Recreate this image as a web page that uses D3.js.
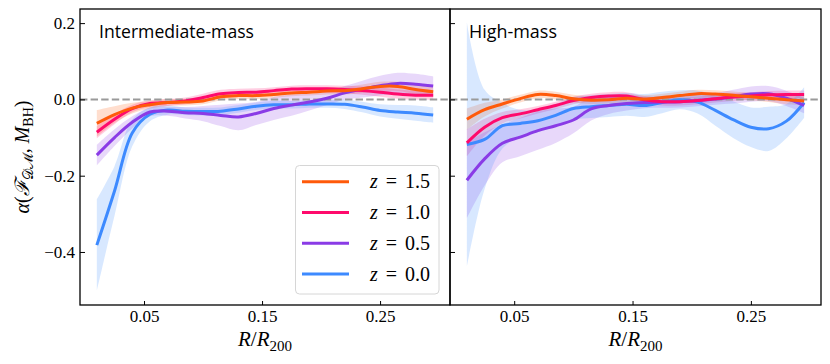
<!DOCTYPE html>
<html>
<head>
<meta charset="utf-8">
<script src="https://cdn.jsdelivr.net/npm/d3@7"></script>
<style>
  html, body { margin: 0; padding: 0; background: #fff; }
  svg { display: block; }
</style>
</head>
<body>
<svg id="chart" width="830" height="364"></svg>
<script>
// ---------------- data ----------------
const R = [0.01, 0.025, 0.04, 0.055, 0.07, 0.085, 0.10, 0.115, 0.13, 0.145,
           0.16, 0.175, 0.19, 0.205, 0.22, 0.235, 0.25, 0.265, 0.28, 0.295];

const redshifts = ["1.5", "1.0", "0.5", "0.0"];
const colors = ["#ff5a0a", "#ff0a6c", "#8a3be6", "#3d8aff"];
const panelTitles = ["Intermediate-mass", "High-mass"];
const xTicks = [0.05, 0.15, 0.25];
const yTicks = [0.2, 0.0, -0.2, -0.4];

// Intermediate-mass
const int_z15 = [-0.063,-0.040,-0.023,-0.014,-0.008,-0.007,-0.004,0.007,0.010,0.010,0.013,0.017,0.019,0.022,0.023,0.028,0.034,0.034,0.026,0.020];
const int_z15_err = [0.035,0.022,0.014,0.010,0.009,0.009,0.009,0.009,0.009,0.009,0.009,0.009,0.009,0.009,0.010,0.011,0.012,0.012,0.012,0.012];
const int_z10 = [-0.086,-0.052,-0.024,-0.011,-0.008,-0.004,0.005,0.015,0.018,0.019,0.023,0.027,0.028,0.028,0.026,0.023,0.019,0.014,0.011,0.011];
const int_z10_err = [0.016,0.013,0.010,0.009,0.009,0.009,0.010,0.010,0.010,0.010,0.009,0.009,0.009,0.009,0.010,0.011,0.012,0.012,0.012,0.012];
const int_z05 = [-0.146,-0.100,-0.060,-0.033,-0.031,-0.035,-0.037,-0.042,-0.046,-0.037,-0.024,-0.015,-0.007,0.003,0.017,0.027,0.036,0.042,0.040,0.035];
const int_z05_err = [0.027,0.022,0.016,0.012,0.012,0.015,0.020,0.028,0.035,0.030,0.030,0.028,0.022,0.018,0.018,0.022,0.026,0.028,0.027,0.025];
const int_z00 = [-0.382,-0.240,-0.088,-0.039,-0.028,-0.031,-0.032,-0.031,-0.025,-0.018,-0.014,-0.014,-0.012,-0.012,-0.013,-0.020,-0.029,-0.033,-0.036,-0.041];
const int_z00_err = [0.120,0.065,0.035,0.018,0.012,0.010,0.010,0.010,0.010,0.010,0.010,0.010,0.010,0.010,0.012,0.014,0.016,0.018,0.020,0.020];

// High-mass
const hi_z15 = [-0.052,-0.027,-0.012,0.002,0.013,0.010,0.002,-0.002,-0.001,0.003,0.001,0.005,0.010,0.015,0.014,0.011,0.007,0.003,-0.001,-0.004];
const hi_z15_err = [0.028,0.018,0.012,0.010,0.010,0.010,0.010,0.010,0.010,0.010,0.010,0.010,0.010,0.010,0.010,0.010,0.010,0.010,0.012,0.012];
const hi_z10 = [-0.114,-0.073,-0.048,-0.038,-0.027,-0.016,-0.003,0.005,0.009,0.009,-0.001,-0.006,-0.006,-0.003,0.002,0.006,0.009,0.012,0.013,0.013];
const hi_z10_err = [0.035,0.022,0.015,0.012,0.010,0.010,0.010,0.010,0.010,0.010,0.010,0.010,0.010,0.010,0.010,0.010,0.010,0.010,0.010,0.010];
const hi_z05 = [-0.212,-0.156,-0.115,-0.099,-0.082,-0.069,-0.054,-0.025,-0.016,-0.011,-0.008,-0.007,-0.006,-0.003,0.001,0.007,0.014,0.015,0.003,-0.016];
const hi_z05_err = [0.100,0.070,0.050,0.050,0.050,0.045,0.035,0.030,0.022,0.018,0.015,0.015,0.015,0.015,0.015,0.018,0.020,0.020,0.020,0.020];
const hi_z00 = [-0.118,-0.105,-0.069,-0.063,-0.056,-0.042,-0.024,-0.019,-0.016,-0.013,-0.016,-0.008,-0.001,-0.007,-0.029,-0.053,-0.073,-0.077,-0.057,-0.008];
const hi_z00_err = [0.320,0.130,0.060,0.035,0.030,0.030,0.030,0.030,0.030,0.030,0.030,0.028,0.025,0.030,0.040,0.048,0.052,0.058,0.045,0.040];

const panels = [
  { title: panelTitles[0], series: [int_z15, int_z10, int_z05, int_z00], errs: [int_z15_err, int_z10_err, int_z05_err, int_z00_err] },
  { title: panelTitles[1], series: [hi_z15, hi_z10, hi_z05, hi_z00], errs: [hi_z15_err, hi_z10_err, hi_z05_err, hi_z00_err] }
];

// ---------------- layout ----------------
const svg = d3.select("#chart");
const plotTop = 9, plotBottom = 305;
const panelX = [[80, 450], [450, 821]];
const xDomain = [-0.00425, 0.30925];
const yDomain = [-0.539, 0.237];
const y = d3.scaleLinear().domain(yDomain).range([plotBottom, plotTop]);
const serif = '"Liberation Serif", "DejaVu Serif", serif';
const sans = '"Open Sans", "DejaVu Sans", sans-serif';
const fmtY = v => (v < 0 ? "\u2212" : "") + Math.abs(v).toFixed(1);

panels.forEach((p, pi) => {
  const [x0, x1] = panelX[pi];
  const x = d3.scaleLinear().domain(xDomain).range([x0, x1]);
  const g = svg.append("g");
  const clipId = "clip" + pi;
  svg.append("clipPath").attr("id", clipId)
    .append("rect").attr("x", x0).attr("y", plotTop).attr("width", x1 - x0).attr("height", plotBottom - plotTop);
  const plot = g.append("g").attr("clip-path", `url(#${clipId})`);

  // bands
  p.series.forEach((s, si) => {
    const e = p.errs[si];
    const area = d3.area()
      .x((d, i) => x(R[i]))
      .y0((d, i) => y(s[i] - e[i]))
      .y1((d, i) => y(s[i] + e[i]))
      .curve(d3.curveCatmullRom.alpha(0.5));
    plot.append("path").datum(s).attr("d", area)
      .attr("fill", colors[si]).attr("fill-opacity", 0.2).attr("stroke", "none");
  });

  // zero line
  plot.append("line")
    .attr("x1", x0).attr("x2", x1).attr("y1", y(0)).attr("y2", y(0))
    .attr("stroke", "#9a9a9a").attr("stroke-width", 2).attr("stroke-dasharray", "7.4,3.2");

  // lines (draw z=0 first so z=1.5 ends on top)
  [3, 2, 1, 0].forEach(si => {
    const s = p.series[si];
    const line = d3.line()
      .x((d, i) => x(R[i]))
      .y(d => y(d))
      .curve(d3.curveCatmullRom.alpha(0.5));
    plot.append("path").datum(s).attr("d", line)
      .attr("fill", "none").attr("stroke", colors[si]).attr("stroke-width", 3)
      .attr("stroke-linejoin", "round").attr("stroke-linecap", "butt");
  });

  // axes (inward ticks)
  const xAxis = d3.axisBottom(x).tickValues(xTicks).tickSize(-4).tickPadding(5)
    .tickFormat(d3.format(".2f"));
  const gx = g.append("g").attr("transform", `translate(0,${plotBottom})`).call(xAxis);
  gx.attr("font-family", null).attr("font-size", null);
  gx.select(".domain").remove();
  gx.selectAll(".tick line").attr("stroke", "#000").attr("stroke-width", 1);
  gx.selectAll(".tick text").style("font-size", "17px").style("font-family", serif).attr("fill", "#000");

  const yAxis = d3.axisLeft(y).tickValues(yTicks).tickSize(-5).tickPadding(5)
    .tickFormat(pi === 0 ? fmtY : () => "");
  const gy = g.append("g").attr("transform", `translate(${x0},0)`).call(yAxis);
  gy.attr("font-family", null).attr("font-size", null);
  gy.select(".domain").remove();
  gy.selectAll(".tick line").attr("stroke", "#000").attr("stroke-width", 1);
  gy.selectAll(".tick text").style("font-size", "17px").style("font-family", serif).attr("fill", "#000");

  // frame
  g.append("rect").attr("x", x0).attr("y", plotTop).attr("width", x1 - x0).attr("height", plotBottom - plotTop)
    .attr("fill", "none").attr("stroke", "#000").attr("stroke-width", 1.3);

  // panel title
  const t = g.append("text").attr("x", x0 + 19).attr("y", 38)
    .style("font-family", sans).style("font-size", "17px").attr("fill", "#000").text(p.title);
  const target = pi === 0 ? 155 : 88;
  const w = t.node().getComputedTextLength();
  if (w > 0) t.style("font-size", (17 * target / w) + "px");

  // x label
  const xl = g.append("text").attr("x", (x0 + x1) / 2).attr("y", 346)
    .attr("text-anchor", "middle").style("font-family", serif).style("font-size", "21px").attr("fill", "#000");
  xl.append("tspan").style("font-style", "italic").text("R");
  xl.append("tspan").text("/");
  xl.append("tspan").style("font-style", "italic").text("R");
  xl.append("tspan").style("font-size", "15px").attr("dy", 5).text("200");
});

// y label
const yl = svg.append("text")
  .attr("transform", "translate(29,157) rotate(-90)")
  .attr("text-anchor", "middle").style("font-family", serif).style("font-size", "20px").attr("fill", "#000");
yl.append("tspan").style("font-style", "italic").text("\u03b1");
yl.append("tspan").text("(");
yl.append("tspan").style("font-family", '"DejaVu Serif", serif').style("font-style", "italic").text("\u2131");
yl.append("tspan").style("font-family", '"DejaVu Serif", serif').style("font-size", "14px").attr("dy", 4).text("\ud835\udc9f\u2133");
yl.append("tspan").attr("dy", -4).text(", ");
yl.append("tspan").style("font-style", "italic").text("M");
yl.append("tspan").style("font-size", "14px").attr("dy", 4).text("BH");
yl.append("tspan").attr("dy", -4).text(")");

// legend
const lg = svg.append("g");
lg.append("rect").attr("x", 295.5).attr("y", 165.5).attr("width", 143.5).attr("height", 128.5)
  .attr("rx", 4).attr("ry", 4).attr("fill", "#fff").attr("fill-opacity", 0.8)
  .attr("stroke", "#d6d6d6").attr("stroke-width", 1);
redshifts.forEach((z, i) => {
  const cy = 181.7 + i * 30.8;
  lg.append("line").attr("x1", 302).attr("x2", 349).attr("y1", cy).attr("y2", cy)
    .attr("stroke", colors[i]).attr("stroke-width", 3);
  const tx = lg.append("text").attr("x", 430).attr("y", cy + 6.5).attr("text-anchor", "end")
    .style("font-family", serif).style("font-size", "20px").attr("fill", "#000");
  tx.append("tspan").style("font-style", "italic").text("z");
  tx.append("tspan").attr("dx", 8).text("=");
  tx.append("tspan").attr("dx", 8).text(z);
});
</script>
</body>
</html>
